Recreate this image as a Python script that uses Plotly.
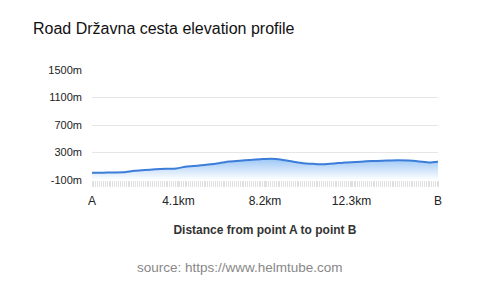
import plotly.graph_objects as go

distance_km = [0, 0.5, 1.0, 1.5, 2.0, 2.5, 3.0, 3.5, 4.0, 4.5, 5.0, 5.5, 6.0, 6.5, 7.0, 7.5,
               8.0, 8.5, 9.0, 9.5, 10.0, 10.5, 11.0, 11.5, 12.0, 12.5, 13.0, 13.5, 14.0,
               14.5, 15.0, 15.5, 16.0, 16.4]
elevation_m = [5, 7, 10, 12, 35, 45, 55, 62, 68, 98, 108, 125, 145, 170, 180, 192,
               203, 210, 195, 170, 145, 135, 128, 140, 155, 162, 172, 178, 182,
               186, 182, 170, 155, 165]
x_tick_vals = [0, 4.1, 8.2, 12.3, 16.4]
x_tick_text = ["A", "4.1km", "8.2km", "12.3km", "B"]
y_tick_vals = [-100, 300, 700, 1100, 1500]
y_tick_text = ["-100m", "300m", "700m", "1100m", "1500m"]

font_family = "Liberation Sans, Arial, sans-serif"
plot_top, plot_bottom = 70, 180

fig = go.Figure()
fig.add_trace(go.Scatter(x=distance_km, y=[-100] * len(distance_km), mode="lines",
                         line=dict(width=0), hoverinfo="skip", showlegend=False))
fig.add_trace(go.Scatter(
    x=distance_km, y=elevation_m, mode="lines",
    line=dict(color="#3b7dd8", width=2, shape="spline", smoothing=0.6),
    fill="tonexty",
    fillgradient=dict(type="vertical",
                      colorscale=[[0, "rgba(255,255,255,0.9)"], [1, "rgba(150,195,245,0.95)"]]),
    showlegend=False,
))

fig.update_layout(
    width=480, height=287,
    margin=dict(l=92, r=42, t=plot_top, b=287 - plot_bottom),
    paper_bgcolor="white", plot_bgcolor="white",
    font=dict(family=font_family, color="#333"),
    title=dict(text="Road Državna cesta elevation profile", xref="container", yref="container",
               x=33 / 480, xanchor="left", y=1 - 28 / 287, yanchor="middle",
               font=dict(size=16, color="#111")),
    xaxis=dict(range=[0, 16.4], tickvals=x_tick_vals, ticktext=x_tick_text,
               showgrid=False, zeroline=False, showline=False,
               ticks="outside", ticklen=6, tickcolor="#e0e0e0", tickwidth=1,
               ticklabelstandoff=4,
               minor=dict(dtick=0.09, tick0=0, ticks="outside", ticklen=6,
                          tickcolor="#e0e0e0", tickwidth=1, showgrid=False),
               tickfont=dict(size=12, color="#222"),
               title=dict(text="<b>Distance from point A to point B</b>",
                          font=dict(size=12, color="#333"), standoff=18)),
    yaxis=dict(range=[-100, 1500], tickvals=y_tick_vals, ticktext=y_tick_text,
               showgrid=True, gridcolor="#e6e6e6", gridwidth=1, zeroline=False,
               showline=False, ticks="", ticklabelstandoff=9,
               tickfont=dict(size=11, color="#222")),
    annotations=[dict(text="source: https://www.helmtube.com", xref="paper", yref="paper",
                      x=(240 - 92) / 346, y=(plot_bottom - 267) / (plot_bottom - plot_top),
                      xanchor="center", yanchor="middle",
                      showarrow=False, font=dict(size=13.5, color="#888"))],
)

fig.write_html("out.html")
